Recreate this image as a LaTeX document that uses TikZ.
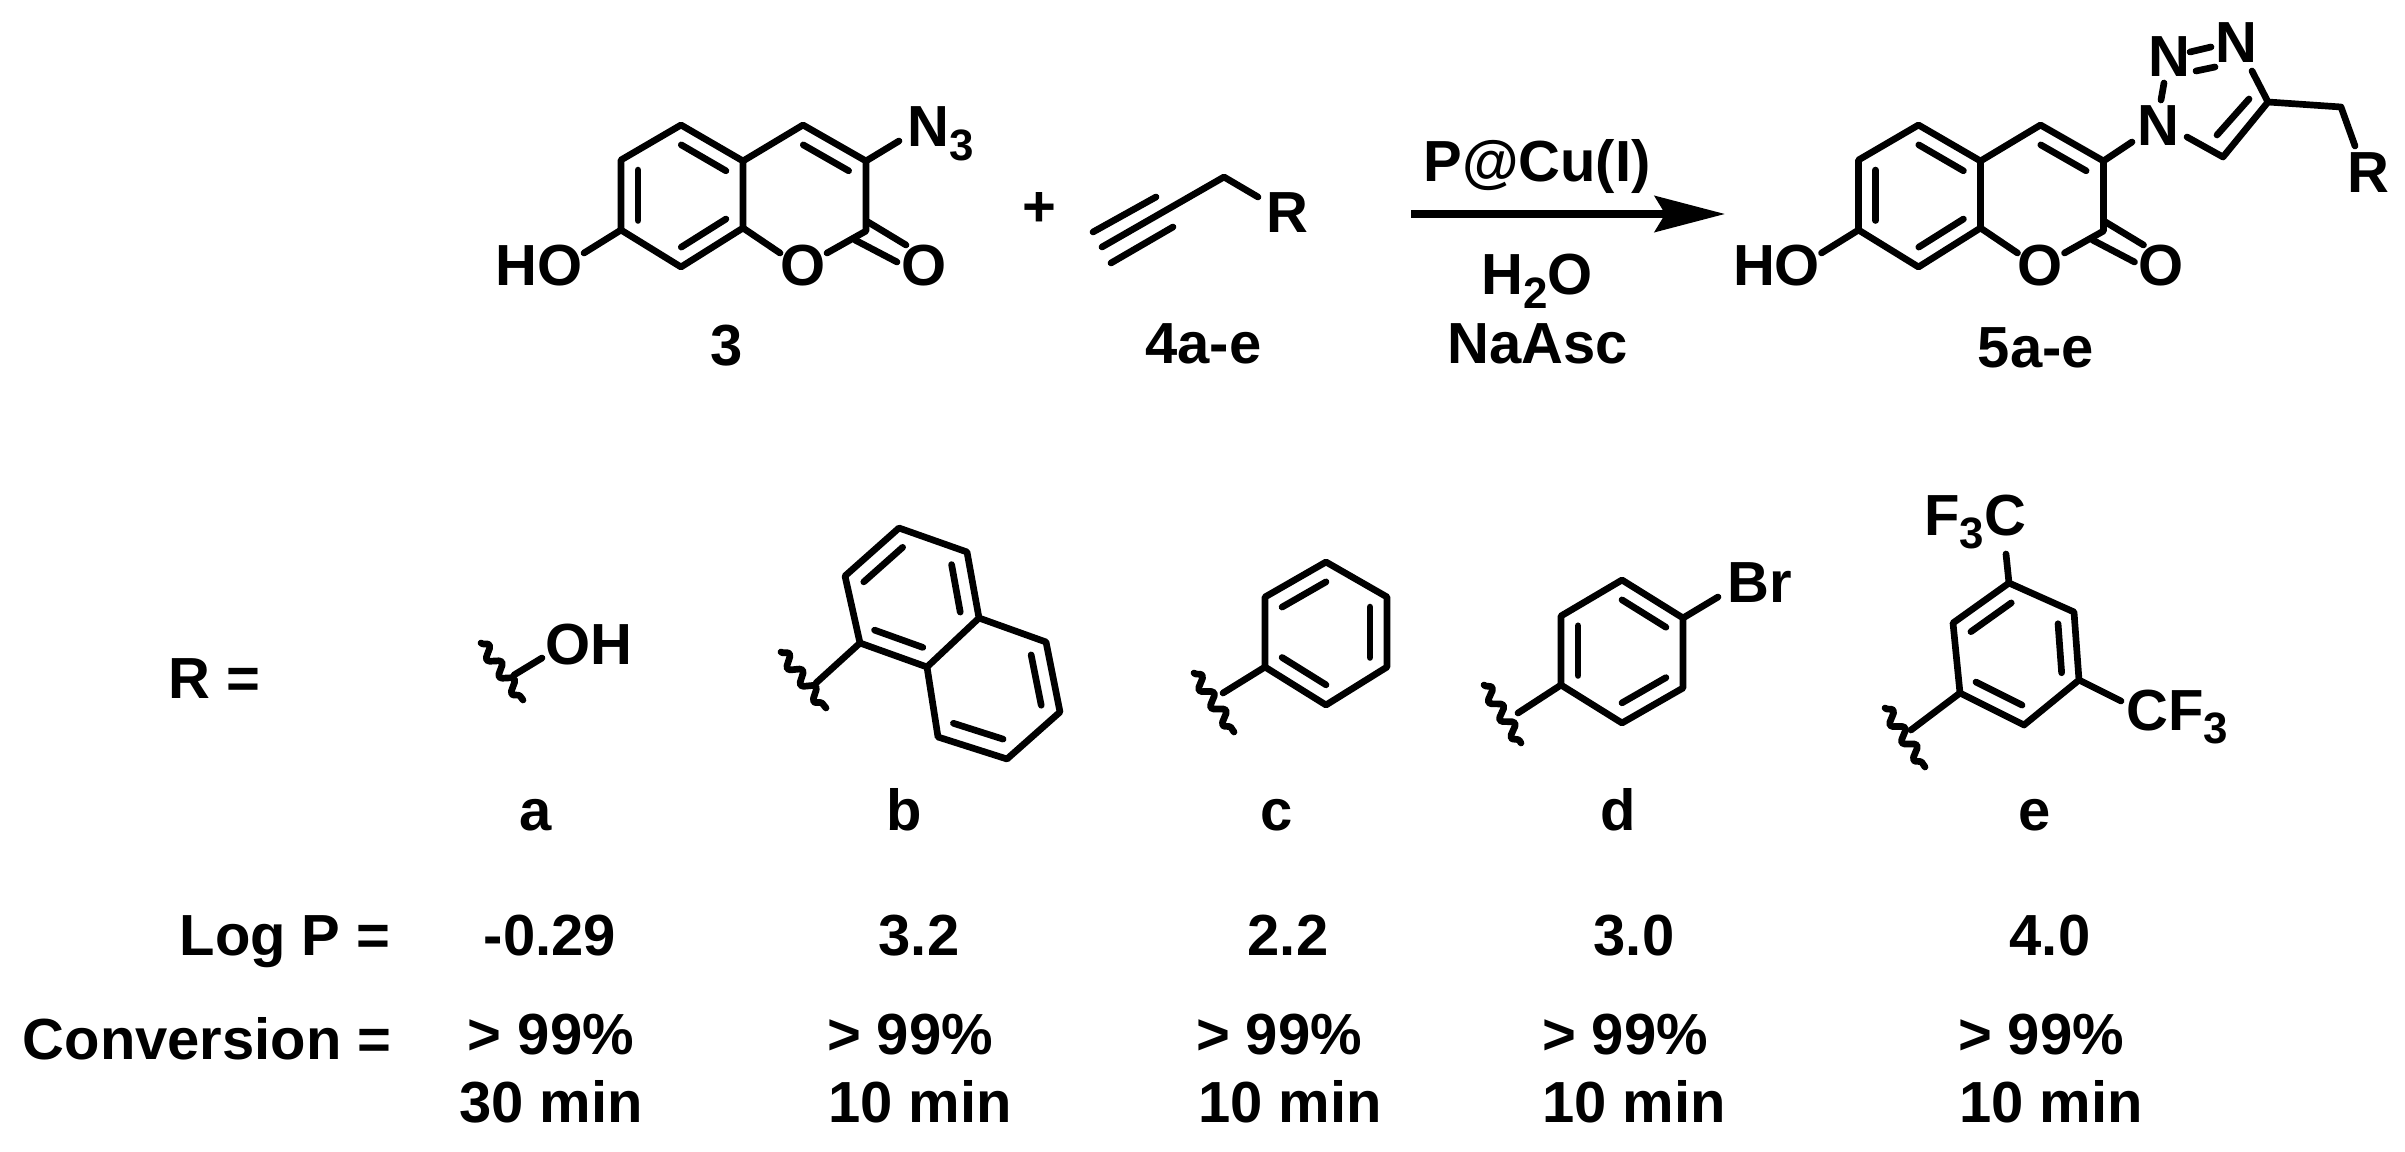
\documentclass[tikz,border=0pt]{standalone}
\usepackage{fontspec}
\setmainfont{Liberation Sans}
\usetikzlibrary{calc,arrows.meta,decorations.pathmorphing}

\tikzset{
  bond/.style={line width=3.8pt, line cap=round, line join=round},
  squig/.style={bond, decorate, decoration={snake, amplitude=3.2pt, segment length=12pt}},
  lab/.style={inner sep=0pt, anchor=base, font=\fontsize{33}{36}\selectfont\bfseries},
  labw/.style={lab, anchor=base west},
}
\newcommand{\subnum}[1]{\raisebox{-7.5pt}{\fontsize{25}{25}\selectfont #1}}
\newcommand{\ringbond}[3]{\draw[bond] ($(#1)!.28!(#3)$) -- ($(#2)!.28!(#3)$);}

% coumarin core, #1 = prefix of the names, #2 = shift
\newcommand{\coumarin}[2]{
  \begin{scope}[shift={(#2,0)}]
    \coordinate (#1a) at (681,125);
    \coordinate (#1b) at (621,160);
    \coordinate (#1c) at (621,230);
    \coordinate (#1d) at (681,267);
    \coordinate (#1e) at (743,228);
    \coordinate (#1f) at (743,161);
    \coordinate (#1g) at (803,125);
    \coordinate (#1h) at (866,161);
    \coordinate (#1i) at (866,231);
    \coordinate (#1ctr) at (682,196);
    \coordinate (#1ctrb) at (804,196);
    \coordinate (#1hoend) at (584,253);
    \coordinate (#1oa) at (780,253);
    \coordinate (#1ob) at (827,253);
    \coordinate (#1dba) at (868,222);
    \coordinate (#1dbb) at (906,245);
    \coordinate (#1dbc) at (855,240);
    \coordinate (#1dbd) at (897,262);
    \node[lab] (#1ho) at (539,286) {HO};
    \node[lab] (#1oring) at (803,286) {O};
    \node[lab] (#1ocarb) at (924,286) {O};
  \end{scope}
  \draw[bond] (#1a) -- (#1b) -- (#1c) -- (#1d) -- (#1e) -- (#1f) -- cycle;
  \draw[bond] (#1f) -- (#1g) -- (#1h) -- (#1i) -- (#1ob);
  \draw[bond] (#1e) -- (#1oa);
  \draw[bond] (#1c) -- (#1hoend);
  \draw[bond] (#1dba) -- (#1dbb);
  \draw[bond] (#1dbc) -- (#1dbd);
  \ringbond{#1a}{#1f}{#1ctr}
  \ringbond{#1b}{#1c}{#1ctr}
  \ringbond{#1d}{#1e}{#1ctr}
  \ringbond{#1g}{#1h}{#1ctrb}
}

\begin{document}
\begin{tikzpicture}[x=0.02cm,y=-0.02cm]
  \useasboundingbox (0,0) rectangle (2405,1152);

  % azide 3
  \coumarin{az}{0}
  \coordinate (aznend) at (899,141);
  \draw[bond] (azh) -- (aznend);
  \node[labw] (azn) at (907,147) {N\subnum{3}};
  \node[lab] (azname) at (727,365) {3};

  \node[lab] (plus) at (1039,227) {+};

  % alkyne 4
  \coordinate (alka) at (1102,247);
  \coordinate (alkb) at (1224,177);
  \coordinate (alkc) at (1258,197);
  \coordinate (alkd) at (1093,232);
  \coordinate (alke) at (1156,197);
  \coordinate (alkf) at (1111,263);
  \coordinate (alkg) at (1173,227);
  \draw[bond] (alka) -- (alkb) -- (alkc);
  \draw[bond] (alkd) -- (alke);
  \draw[bond] (alkf) -- (alkg);
  \node[lab] (alkr) at (1287,233) {R};
  \node[lab] (alkname) at (1203.5,363) {4a-e};

  % arrow
  \coordinate (arrstart) at (1411,214);
  \coordinate (arrend) at (1725,214);
  \draw[line width=4pt, -{Stealth[length=40pt, width=20.5pt, inset=6pt]}] (arrstart) -- (arrend);
  \node[lab] (cat) at (1537,182) {P@Cu(I)};
  \node[lab] (water) at (1537,295) {H\subnum{2}O};
  \node[lab] (asc) at (1538,363) {NaAsc};

  % triazole 5
  \coumarin{pr}{1237.5}
  \coordinate (trnend) at (2132,142);
  \coordinate (trna) at (2164,83);
  \coordinate (trnb) at (2161,100);
  \coordinate (trnc) at (2190,52);
  \coordinate (trnd) at (2211,47);
  \coordinate (trne) at (2196,71);
  \coordinate (trnf) at (2215,67);
  \coordinate (trng) at (2252,71);
  \coordinate (trca) at (2268,102);
  \coordinate (trcb) at (2223,157);
  \coordinate (trcc) at (2187,137);
  \coordinate (trcd) at (2249,99);
  \coordinate (trce) at (2217,135);
  \coordinate (trch) at (2341,107);
  \coordinate (trrend) at (2355,146);
  \draw[bond] (prh) -- (trnend);
  \draw[bond] (trna) -- (trnb);
  \draw[bond] (trnc) -- (trnd);
  \draw[bond] (trne) -- (trnf);
  \draw[bond] (trng) -- (trca) -- (trcb) -- (trcc);
  \draw[bond] (trcd) -- (trce);
  \draw[bond] (trca) -- (trch) -- (trrend);
  \node[lab] (trnone) at (2158,146) {N};
  \node[lab] (trntwo) at (2169,77) {N};
  \node[lab] (trnthree) at (2236,63) {N};
  \node[lab] (trr) at (2368,193) {R};
  \node[lab] (prname) at (2036,368) {5a-e};

  \node[lab] (req) at (214.5,698) {R =};

  % group a
  \coordinate (asqa) at (481,643);
  \coordinate (asqb) at (523,700);
  \coordinate (abonda) at (514,675);
  \coordinate (abondb) at (542,658);
  \draw[squig] (asqa) -- (asqb);
  \draw[bond] (abonda) -- (abondb);
  \node[labw] (aoh) at (545,664) {OH};

  % group b
  \coordinate (ba) at (899,528);
  \coordinate (bb) at (967,552);
  \coordinate (bc) at (979,618);
  \coordinate (bd) at (927,667);
  \coordinate (be) at (860,643);
  \coordinate (bf) at (845,576);
  \coordinate (bg) at (1046,642);
  \coordinate (bh) at (1060,712);
  \coordinate (bi) at (1007,759);
  \coordinate (bj) at (938,737);
  \coordinate (bctra) at (912,597);
  \coordinate (bctrb) at (993,688);
  \coordinate (bsqa) at (781,652);
  \coordinate (bsqb) at (826,708);
  \coordinate (bend) at (816,683);
  \draw[bond] (ba) -- (bb) -- (bc) -- (bd) -- (be) -- (bf) -- cycle;
  \draw[bond] (bc) -- (bg) -- (bh) -- (bi) -- (bj) -- (bd);
  \draw[bond] (be) -- (bend);
  \draw[squig] (bsqa) -- (bsqb);
  \ringbond{ba}{bf}{bctra}
  \ringbond{bb}{bc}{bctra}
  \ringbond{bd}{be}{bctra}
  \ringbond{bg}{bh}{bctrb}
  \ringbond{bi}{bj}{bctrb}

  % group c
  \coordinate (ca) at (1326,562);
  \coordinate (cb) at (1387,597);
  \coordinate (cc) at (1387,667);
  \coordinate (cd) at (1326,705);
  \coordinate (ce) at (1265,667);
  \coordinate (cf) at (1265,597);
  \coordinate (cctr) at (1326,633);
  \coordinate (csqa) at (1194,673);
  \coordinate (csqb) at (1234,732);
  \coordinate (cend) at (1223,693);
  \draw[bond] (ca) -- (cb) -- (cc) -- (cd) -- (ce) -- (cf) -- cycle;
  \draw[bond] (ce) -- (cend);
  \draw[squig] (csqa) -- (csqb);
  \ringbond{ca}{cf}{cctr}
  \ringbond{cb}{cc}{cctr}
  \ringbond{cd}{ce}{cctr}

  % group d
  \coordinate (da) at (1622,580);
  \coordinate (db) at (1683,618);
  \coordinate (dc) at (1683,688);
  \coordinate (dd) at (1622,723);
  \coordinate (de) at (1561,685);
  \coordinate (df) at (1561,616);
  \coordinate (dctr) at (1622,651);
  \coordinate (dsqa) at (1484,685);
  \coordinate (dsqb) at (1521,743);
  \coordinate (dend) at (1518,713);
  \coordinate (dbr) at (1718,597);
  \draw[bond] (da) -- (db) -- (dc) -- (dd) -- (de) -- (df) -- cycle;
  \draw[bond] (de) -- (dend);
  \draw[bond] (db) -- (dbr);
  \draw[squig] (dsqa) -- (dsqb);
  \ringbond{da}{db}{dctr}
  \ringbond{de}{df}{dctr}
  \ringbond{dc}{dd}{dctr}
  \node[labw] (dbrom) at (1727,602) {Br};

  % group e
  \coordinate (ea) at (2009,583);
  \coordinate (eb) at (2074,612);
  \coordinate (ec) at (2079,680);
  \coordinate (ed) at (2024,725);
  \coordinate (ee) at (1960,693);
  \coordinate (ef) at (1953,623);
  \coordinate (ectr) at (2017,654);
  \coordinate (esqa) at (1885,708);
  \coordinate (esqb) at (1925,767);
  \coordinate (eend) at (1911,730);
  \coordinate (etop) at (2006,554);
  \coordinate (eright) at (2121,701);
  \draw[bond] (ea) -- (eb) -- (ec) -- (ed) -- (ee) -- (ef) -- cycle;
  \draw[bond] (ee) -- (eend);
  \draw[bond] (ea) -- (etop);
  \draw[bond] (ec) -- (eright);
  \draw[squig] (esqa) -- (esqb);
  \ringbond{ea}{ef}{ectr}
  \ringbond{eb}{ec}{ectr}
  \ringbond{ed}{ee}{ectr}
  \node[labw] (ecfa) at (1924,535) {F\subnum{3}C};
  \node[labw] (ecfb) at (2126,730) {CF\subnum{3}};

  \node[lab] (namea) at (536,830) {a};
  \node[lab] (nameb) at (904,830) {b};
  \node[lab] (namec) at (1277,830) {c};
  \node[lab] (named) at (1618,830) {d};
  \node[lab] (namee) at (2035,830) {e};

  \node[lab, anchor=base east] (logp) at (391,955) {Log P =};
  \node[lab] (logpa) at (550,955) {-0.29};
  \node[lab] (logpb) at (919,955) {3.2};
  \node[lab] (logpc) at (1288,955) {2.2};
  \node[lab] (logpd) at (1634,955) {3.0};
  \node[lab] (logpe) at (2050,955) {4.0};

  \node[lab, anchor=base east] (conv) at (392,1059) {Conversion =};
  \node[lab] (conva) at (551,1054) {> 99\%};
  \node[lab] (convb) at (910,1054) {> 99\%};
  \node[lab] (convc) at (1279,1054) {> 99\%};
  \node[lab] (convd) at (1625,1054) {> 99\%};
  \node[lab] (conve) at (2041,1054) {> 99\%};

  \node[lab] (timea) at (551,1122) {30 min};
  \node[lab] (timeb) at (920,1122) {10 min};
  \node[lab] (timec) at (1290,1122) {10 min};
  \node[lab] (timed) at (1634,1122) {10 min};
  \node[lab] (timee) at (2051,1122) {10 min};
\end{tikzpicture}
\end{document}
